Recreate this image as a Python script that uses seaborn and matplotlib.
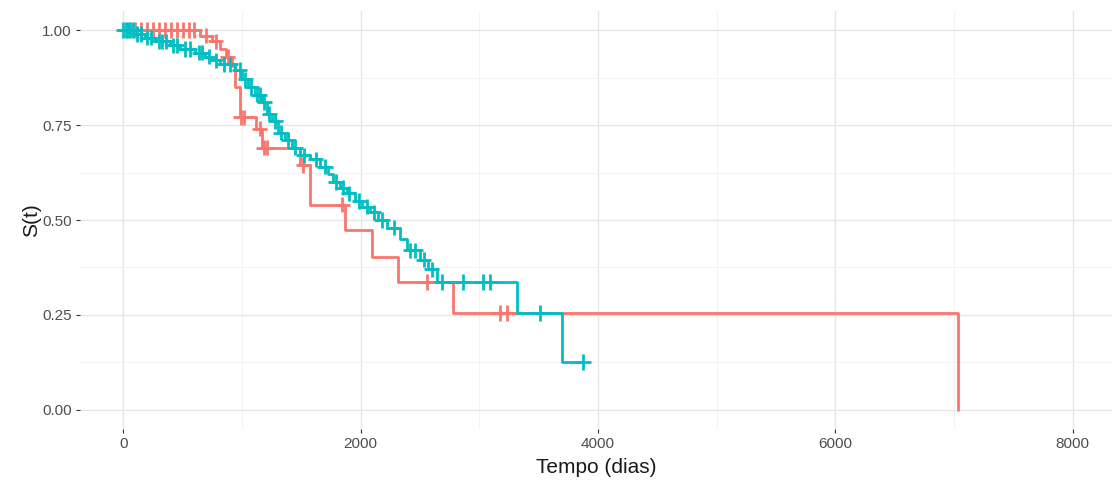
import numpy as np
import pandas as pd
import matplotlib
matplotlib.use("Agg")
import matplotlib.pyplot as plt
import seaborn as sns
from matplotlib.ticker import MultipleLocator

# Kaplan-Meier step estimates (time in days, survival after the step)
red_times = [0, 650, 750, 817, 867, 918, 943, 985, 1120, 1170, 1490, 1575,
             1870, 2097, 2316, 2780, 7030]
red_surv = [1.00, 0.985, 0.97, 0.95, 0.93, 0.905, 0.85, 0.77, 0.74, 0.69,
            0.645, 0.54, 0.474, 0.403, 0.337, 0.255, 0.0]
red_censor = [100, 150, 200, 250, 300, 350, 400, 450, 500, 550, 600, 700,
              780, 880, 990, 1020, 1150, 1185, 1210, 1516, 1845, 2560,
              3175, 3234]

teal_times = [0, 101, 185, 270, 396, 480, 606, 690, 750, 817, 943, 1002,
              1053, 1112, 1171, 1213, 1255, 1305, 1364, 1423, 1490, 1575,
              1659, 1726, 1768, 1827, 1886, 1954, 2013, 2080, 2147, 2223,
              2333, 2392, 2501, 2568, 2644, 3318, 3697, 3874]
teal_surv = [1.00, 0.99, 0.98, 0.97, 0.96, 0.95, 0.94, 0.93, 0.92, 0.91,
             0.895, 0.87, 0.85, 0.83, 0.81, 0.78, 0.76, 0.73, 0.71, 0.69,
             0.67, 0.66, 0.64, 0.62, 0.60, 0.585, 0.57, 0.55, 0.535, 0.52,
             0.50, 0.48, 0.45, 0.42, 0.395, 0.37, 0.337, 0.255, 0.126, 0.126]
teal_censor = [0, 20, 40, 60, 80, 120, 150, 200, 230, 300, 330, 360, 420,
               450, 520, 560, 640, 660, 720, 780, 850, 900, 980, 1030, 1080,
               1130, 1150, 1190, 1230, 1280, 1330, 1390, 1450, 1520, 1620,
               1700, 1790, 1850, 1900, 1990, 2050, 2110, 2180, 2280, 2420,
               2460, 2530, 2600, 2686, 2863, 3031, 3090, 3510, 3874]

groups = ["A", "B"]
palette = {"A": "#F8766D", "B": "#00BFC4"}


def surv_at(times, surv, t):
    idx = np.searchsorted(np.asarray(times), np.asarray(t), side="right") - 1
    return np.asarray(surv)[idx]


curves = pd.concat([
    pd.DataFrame({"time": red_times, "surv": red_surv, "grupo": "A"}),
    pd.DataFrame({"time": teal_times, "surv": teal_surv, "grupo": "B"}),
], ignore_index=True)

censors = pd.concat([
    pd.DataFrame({"time": red_censor,
                  "surv": surv_at(red_times, red_surv, red_censor),
                  "grupo": "A"}),
    pd.DataFrame({"time": teal_censor,
                  "surv": surv_at(teal_times, teal_surv, teal_censor),
                  "grupo": "B"}),
], ignore_index=True)

sns.set_theme(style="whitegrid")
plt.rcParams["font.family"] = ["Liberation Sans", "DejaVu Sans"]

fig = plt.figure(figsize=(11.15, 4.83), dpi=100)
ax = fig.add_axes([0.072, 0.112, 0.925, 0.865])

sns.lineplot(data=curves, x="time", y="surv", hue="grupo", palette=palette,
             hue_order=groups, drawstyle="steps-post", estimator=None,
             sort=False, linewidth=2.0, legend=False, ax=ax)
sns.scatterplot(data=censors, x="time", y="surv", hue="grupo",
                palette=palette, hue_order=groups, marker="+", s=120,
                linewidth=2.0, legend=False, ax=ax, zorder=3)

ax.set_xlim(-362, 8328)
ax.set_ylim(-0.05, 1.05)
ax.set_xticks([0, 2000, 4000, 6000, 8000])
ax.set_yticks([0.0, 0.25, 0.5, 0.75, 1.0])
ax.set_yticklabels(["0.00", "0.25", "0.50", "0.75", "1.00"])
ax.xaxis.set_minor_locator(MultipleLocator(1000))
ax.yaxis.set_minor_locator(MultipleLocator(0.125))

ax.set_facecolor("white")
ax.grid(which="major", color="#E6E6E6", linewidth=1.0)
ax.grid(which="minor", color="#F2F2F2", linewidth=0.7)
for s in ax.spines.values():
    s.set_visible(False)

ax.tick_params(axis="both", which="major", length=3, width=0.8,
               color="#333333", labelsize=11, labelcolor="#4D4D4D", pad=3,
               bottom=True, left=True)
ax.tick_params(axis="both", which="minor", length=0)

ax.set_xlabel("Tempo (dias)", fontsize=15, color="#1A1A1A", labelpad=5)
ax.set_ylabel("S(t)", fontsize=15, color="#1A1A1A", labelpad=1)

fig.savefig("out.png", dpi=100, facecolor="white")
